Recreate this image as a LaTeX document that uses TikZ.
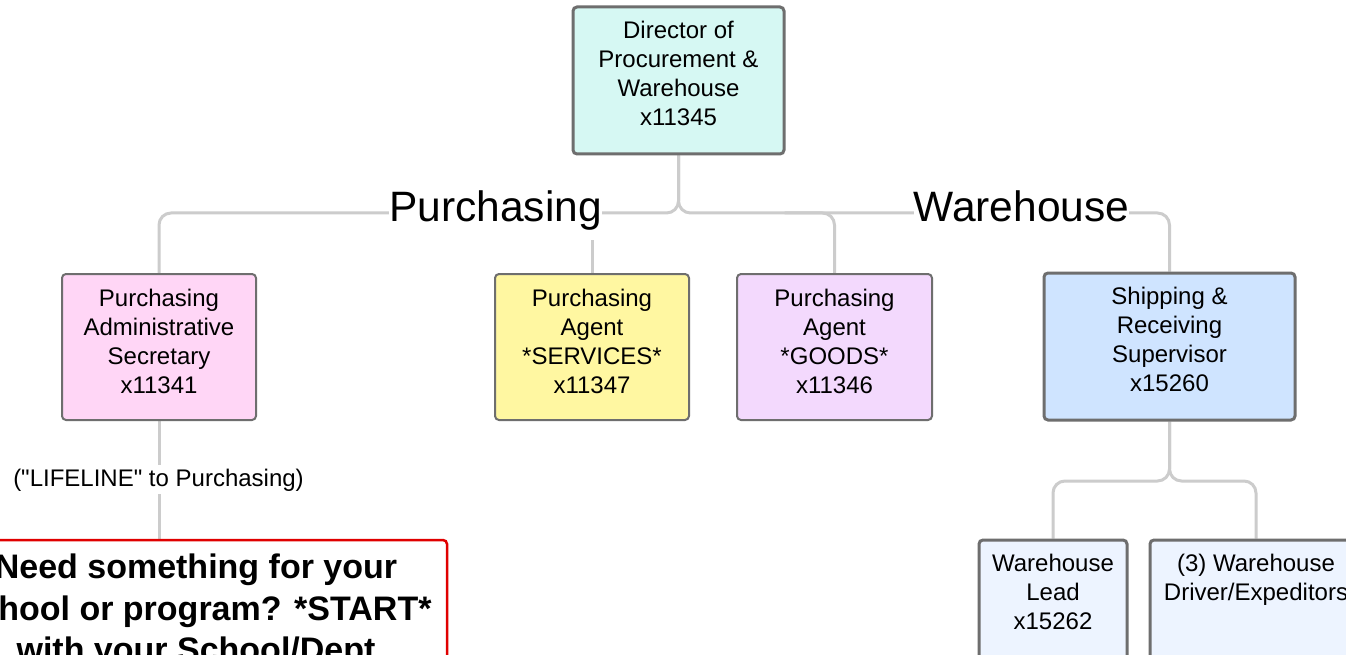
\documentclass[tikz,border=0pt]{standalone}
\usepackage{fontspec}
\setmainfont{Liberation Sans}[Ligatures=TeXOff]
\usetikzlibrary{calc}
\pgfdeclarelayer{background}
\pgfsetlayers{background,main}
\definecolor{lineg}{HTML}{CCCCCC}
\definecolor{bordg}{HTML}{6E6E6E}
\definecolor{cDir}{HTML}{D6F8F3}
\definecolor{cAdm}{HTML}{FFD6F6}
\definecolor{cSrv}{HTML}{FFF7A1}
\definecolor{cGds}{HTML}{F3D9FD}
\definecolor{cShp}{HTML}{CFE4FF}
\definecolor{cWh}{HTML}{EDF4FF}
\definecolor{cRed}{HTML}{E00000}
\tikzset{
  conn/.style={draw=lineg, line width=3pt, rounded corners=12pt},
  box/.style={rectangle, draw=bordg, rounded corners=4pt, inner sep=0pt},
  thinbox/.style={box, line width=2pt},
  thickbox/.style={box, line width=3pt},
  boxtxt/.style={anchor=north, inner sep=0pt, align=center, font=\fontsize{24}{29}\selectfont},
  biglabel/.style={fill=white, inner xsep=0pt, inner ysep=9pt, anchor=base, font=\fontsize{42.5}{50}\selectfont},
  smalllabel/.style={fill=white, inner xsep=0pt, inner ysep=3.5pt, anchor=base, font=\fontsize{24}{29}\selectfont},
}
\begin{document}
\begin{tikzpicture}[x=1pt,y=-1pt]
\useasboundingbox (0,0) rectangle (1346,655);
\clip (0,0) rectangle (1346,655);

% boxes
\node[thickbox, fill=cDir, minimum width=211pt, minimum height=147pt] (dir) at (678.5,80.5) {};
\node[thinbox, fill=cAdm, minimum width=194pt, minimum height=146pt] (admin) at (159,347) {};
\node[thinbox, fill=cSrv, minimum width=194pt, minimum height=146pt] (serv) at (592,347) {};
\node[thinbox, fill=cGds, minimum width=195pt, minimum height=146pt] (goods) at (834.5,347) {};
\node[thickbox, fill=cShp, minimum width=251pt, minimum height=147pt] (ship) at (1169.5,346.5) {};
\node[thickbox, fill=cWh, minimum width=148pt, minimum height=160pt] (lead) at (1053,620) {};
\node[thickbox, fill=cWh, minimum width=212pt, minimum height=160pt] (driver) at (1256,620) {};
\node[box, draw=cRed, line width=2.5pt, fill=white, minimum width=502pt, minimum height=180pt] (red) at (196,630) {};

% labels on connectors
\node[biglabel] (pur) at (495.5,221.7) {Purchasing};
\node[biglabel] (wh) at (1021.5,221.7) {Warehouse};
\node[smalllabel] (life) at (158.5,486) {("LIFELINE" to Purchasing)};

% connectors
\coordinate (bus) at (0,213);
\coordinate (bus2) at (0,481);
\begin{pgfonlayer}{background}
\fill[white] (0,0) rectangle (1346,655);
\draw[conn] (dir.south) -- (dir.south |- bus) -| (admin.north);
\draw[conn] (dir.south) -- (dir.south |- bus) -| (ship.north);
\draw[conn] ($(goods.north |- bus)+(-50,0)$) -| (goods.north);
\draw[conn] (serv.north) -- (serv.north |- pur.south);
\draw[conn] (admin.south) -- (admin.south |- red.north);
\draw[conn] (ship.south) -- (ship.south |- bus2) -| (lead.north);
\draw[conn] (ship.south) -- (ship.south |- bus2) -| (driver.north);
\end{pgfonlayer}

% box texts
\node[boxtxt] (dirt) at ($(dir.north)+(0,15.5)$) {Director of\\Procurement \&\\Warehouse\\x11345};
\node[boxtxt] (admint) at ($(admin.north)+(0,15.5)$) {Purchasing\\Administrative\\Secretary\\x11341};
\node[boxtxt] (servt) at ($(serv.north)+(0,15.5)$) {Purchasing\\Agent\\*SERVICES*\\x11347};
\node[boxtxt] (goodst) at ($(goods.north)+(0,15.5)$) {Purchasing\\Agent\\*GOODS*\\x11346};
\node[boxtxt] (shipt) at ($(ship.north)+(0,15.5)$) {Shipping \&\\Receiving\\Supervisor\\x15260};
\node[boxtxt] (leadt) at ($(lead.north)+(0,15.5)$) {Warehouse\\Lead\\x15262};
\node[boxtxt] (drivert) at ($(driver.north)+(0,15.5)$) {(3) Warehouse\\Driver/Expeditors};
\node[anchor=north, inner sep=0pt, align=center, font=\fontsize{34}{41.5}\bfseries\selectfont] (redt) at ($(red.north)+(0,15)$) {Need something for your\\school or program? *START*\\with your School/Dept};
\end{tikzpicture}
\end{document}
